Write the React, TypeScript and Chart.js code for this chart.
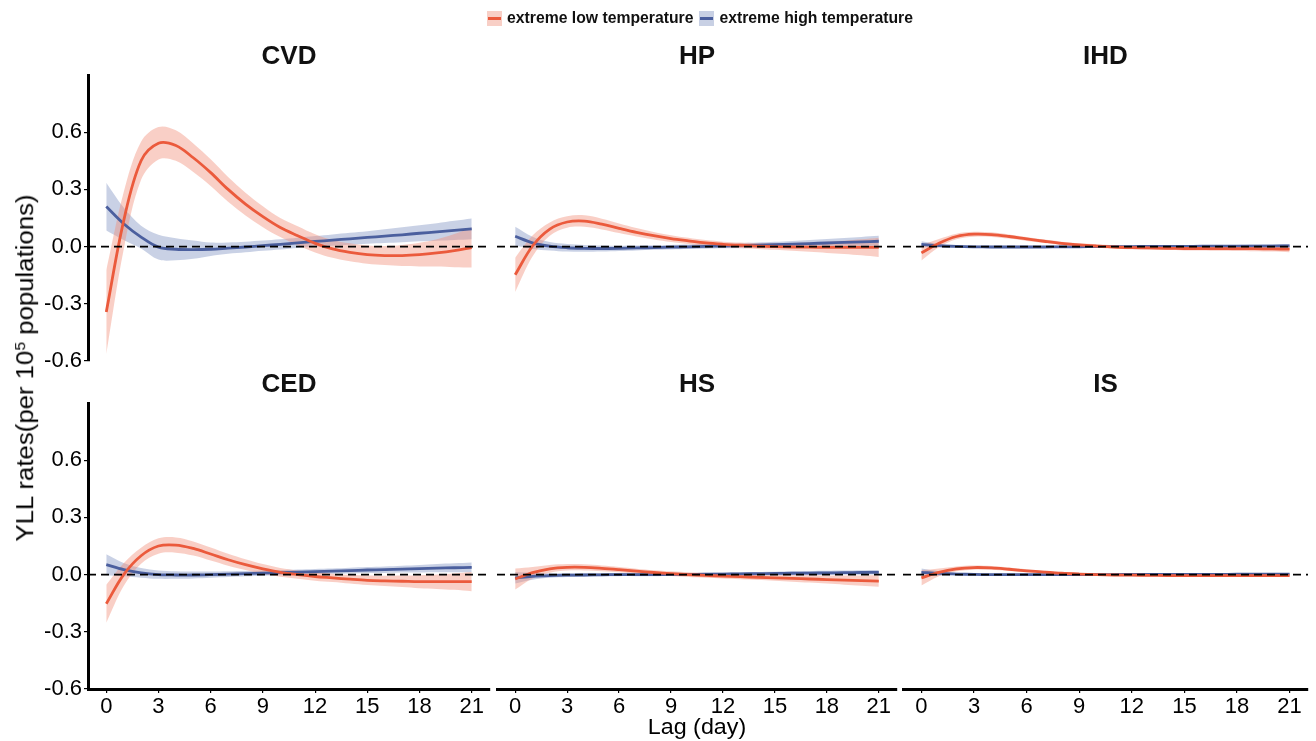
import React, { useEffect, useRef } from "react";
import { Chart, registerables } from "chart.js";

Chart.register(...registerables);

// ---------- data ----------
const lags = [0, 1, 2, 3, 4, 5, 6, 7, 8, 9, 10, 11, 12, 13, 14, 15, 16, 17, 18, 19, 20, 21];
const xTickValues = [0, 3, 6, 9, 12, 15, 18, 21];
const yTickValues = [-0.6, -0.3, 0, 0.3, 0.6];
const xLimits = [-1.05, 22.05];
const yLimits = [-0.6, 0.9];
const zeroLine = [0, 0];

const panelTitles = ["CVD", "HP", "IHD", "CED", "HS", "IS"];
const seriesNames = ["extreme low temperature", "extreme high temperature"];

// CVD
const cvdLow = [-0.343, 0.135, 0.45, 0.542, 0.53, 0.466, 0.388, 0.30, 0.223, 0.157, 0.10, 0.057, 0.017, -0.012, -0.03, -0.042, -0.047, -0.047, -0.042, -0.033, -0.021, -0.005];
const cvdLowLower = [-0.563, -0.015, 0.35, 0.457, 0.45, 0.391, 0.318, 0.235, 0.163, 0.102, 0.05, 0.007, -0.031, -0.059, -0.077, -0.09, -0.097, -0.102, -0.104, -0.105, -0.108, -0.11];
const cvdLowUpper = [-0.123, 0.285, 0.55, 0.627, 0.61, 0.541, 0.458, 0.365, 0.283, 0.212, 0.15, 0.107, 0.065, 0.035, 0.017, 0.006, 0.003, 0.008, 0.02, 0.039, 0.066, 0.10];
const cvdHigh = [0.21, 0.12, 0.05, -0.003, -0.014, -0.016, -0.014, -0.008, -0.002, 0.005, 0.012, 0.02, 0.027, 0.034, 0.041, 0.048, 0.055, 0.062, 0.07, 0.077, 0.085, 0.093];
const cvdHighLower = [0.085, 0.035, -0.01, -0.068, -0.072, -0.064, -0.049, -0.038, -0.03, -0.022, -0.015, -0.007, -0.001, 0.005, 0.01, 0.015, 0.019, 0.023, 0.028, 0.031, 0.035, 0.039];
const cvdHighUpper = [0.335, 0.205, 0.11, 0.062, 0.044, 0.032, 0.021, 0.022, 0.026, 0.032, 0.039, 0.047, 0.055, 0.063, 0.072, 0.081, 0.091, 0.101, 0.112, 0.123, 0.135, 0.147];

// HP
const hpLow = [-0.148, 0.003, 0.092, 0.129, 0.134, 0.118, 0.096, 0.075, 0.057, 0.042, 0.03, 0.019, 0.012, 0.007, 0.003, 0.0, -0.002, -0.003, -0.004, -0.004, -0.004, -0.004];
const hpLowLower = [-0.238, -0.052, 0.057, 0.099, 0.104, 0.09, 0.071, 0.053, 0.037, 0.024, 0.014, 0.004, -0.002, -0.007, -0.012, -0.017, -0.022, -0.027, -0.033, -0.039, -0.046, -0.054];
const hpLowUpper = [-0.058, 0.058, 0.127, 0.159, 0.164, 0.146, 0.121, 0.097, 0.077, 0.06, 0.046, 0.034, 0.026, 0.021, 0.018, 0.017, 0.018, 0.021, 0.025, 0.031, 0.038, 0.046];
const hpHigh = [0.054, 0.02, 0.002, -0.006, -0.009, -0.01, -0.009, -0.007, -0.005, -0.003, -0.001, 0.001, 0.003, 0.005, 0.007, 0.01, 0.013, 0.016, 0.019, 0.022, 0.025, 0.028];
const hpHighLower = [0.004, -0.012, -0.02, -0.026, -0.027, -0.026, -0.023, -0.02, -0.017, -0.015, -0.013, -0.011, -0.009, -0.008, -0.007, -0.005, -0.004, -0.003, -0.002, -0.001, -0.001, -0.001];
const hpHighUpper = [0.104, 0.052, 0.024, 0.014, 0.009, 0.006, 0.005, 0.006, 0.007, 0.009, 0.011, 0.013, 0.015, 0.018, 0.021, 0.025, 0.03, 0.035, 0.04, 0.045, 0.051, 0.057];

// IHD
const ihdLow = [-0.033, 0.018, 0.053, 0.065, 0.063, 0.053, 0.04, 0.028, 0.017, 0.009, 0.003, -0.002, -0.005, -0.007, -0.009, -0.01, -0.01, -0.011, -0.011, -0.011, -0.012, -0.013];
const ihdLowLower = [-0.073, -0.004, 0.038, 0.052, 0.051, 0.042, 0.03, 0.019, 0.008, 0.0, -0.006, -0.011, -0.014, -0.016, -0.018, -0.02, -0.02, -0.022, -0.023, -0.024, -0.026, -0.029];
const ihdLowUpper = [0.007, 0.04, 0.068, 0.078, 0.075, 0.064, 0.05, 0.037, 0.026, 0.018, 0.012, 0.007, 0.004, 0.002, 0.0, 0.0, 0.0, 0.0, 0.001, 0.002, 0.002, 0.003];
const ihdHigh = [0.012, 0.005, 0.001, -0.001, -0.002, -0.002, -0.002, -0.002, -0.001, -0.001, 0.0, 0.0, 0.0, 0.001, 0.001, 0.001, 0.002, 0.002, 0.002, 0.003, 0.003, 0.004];
const ihdHighLower = [-0.004, -0.005, -0.006, -0.007, -0.008, -0.008, -0.008, -0.007, -0.006, -0.006, -0.005, -0.005, -0.005, -0.004, -0.004, -0.004, -0.004, -0.004, -0.005, -0.005, -0.006, -0.006];
const ihdHighUpper = [0.028, 0.015, 0.008, 0.005, 0.004, 0.004, 0.004, 0.003, 0.004, 0.004, 0.005, 0.005, 0.005, 0.006, 0.006, 0.006, 0.008, 0.008, 0.009, 0.011, 0.012, 0.014];

// CED
const cedLow = [-0.153, 0.0, 0.099, 0.15, 0.155, 0.137, 0.108, 0.078, 0.052, 0.03, 0.012, 0.0, -0.01, -0.017, -0.024, -0.03, -0.033, -0.035, -0.037, -0.037, -0.037, -0.037];
const cedLowLower = [-0.253, -0.06, 0.057, 0.11, 0.115, 0.1, 0.074, 0.047, 0.024, 0.005, -0.011, -0.022, -0.032, -0.039, -0.047, -0.055, -0.06, -0.065, -0.071, -0.075, -0.08, -0.087];
const cedLowUpper = [-0.053, 0.06, 0.141, 0.19, 0.195, 0.174, 0.142, 0.109, 0.08, 0.055, 0.035, 0.022, 0.012, 0.005, -0.001, -0.005, -0.006, -0.005, -0.003, 0.001, 0.006, 0.013];
const cedHigh = [0.052, 0.026, 0.009, 0.0, -0.002, -0.002, 0.0, 0.003, 0.005, 0.008, 0.01, 0.013, 0.016, 0.018, 0.021, 0.024, 0.026, 0.029, 0.031, 0.034, 0.036, 0.038];
const cedHighLower = [-0.003, -0.009, -0.016, -0.022, -0.022, -0.02, -0.016, -0.012, -0.009, -0.006, -0.004, -0.001, 0.002, 0.004, 0.006, 0.008, 0.009, 0.011, 0.011, 0.012, 0.012, 0.012];
const cedHighUpper = [0.107, 0.061, 0.034, 0.022, 0.018, 0.016, 0.016, 0.018, 0.019, 0.022, 0.024, 0.027, 0.03, 0.032, 0.036, 0.04, 0.043, 0.047, 0.051, 0.056, 0.06, 0.064];

// HS
const hsLow = [-0.023, 0.01, 0.03, 0.038, 0.038, 0.033, 0.026, 0.018, 0.011, 0.005, 0.0, -0.004, -0.008, -0.011, -0.014, -0.017, -0.02, -0.023, -0.026, -0.029, -0.032, -0.034];
const hsLowLower = [-0.078, -0.02, 0.01, 0.021, 0.022, 0.018, 0.012, 0.005, -0.001, -0.007, -0.012, -0.016, -0.02, -0.024, -0.028, -0.032, -0.037, -0.042, -0.047, -0.053, -0.059, -0.064];
const hsLowUpper = [0.032, 0.04, 0.05, 0.055, 0.054, 0.048, 0.04, 0.031, 0.023, 0.017, 0.012, 0.008, 0.004, 0.002, 0.0, -0.002, -0.003, -0.004, -0.005, -0.005, -0.005, -0.004];
const hsHigh = [-0.017, -0.009, -0.005, -0.003, -0.002, -0.001, 0.0, 0.0, 0.0, 0.001, 0.001, 0.002, 0.003, 0.004, 0.005, 0.006, 0.007, 0.008, 0.009, 0.01, 0.011, 0.012];
const hsHighLower = [-0.047, -0.027, -0.017, -0.013, -0.011, -0.009, -0.008, -0.008, -0.008, -0.007, -0.007, -0.006, -0.005, -0.004, -0.004, -0.003, -0.003, -0.003, -0.002, -0.001, -0.001, 0.0];
const hsHighUpper = [0.013, 0.009, 0.007, 0.007, 0.007, 0.007, 0.008, 0.008, 0.008, 0.009, 0.009, 0.01, 0.011, 0.012, 0.014, 0.015, 0.017, 0.019, 0.02, 0.021, 0.023, 0.024];

// IS
const isLow = [-0.017, 0.012, 0.03, 0.037, 0.035, 0.028, 0.02, 0.013, 0.007, 0.003, 0.0, -0.002, -0.003, -0.004, -0.005, -0.005, -0.005, -0.005, -0.005, -0.005, -0.005, -0.005];
const isLowLower = [-0.057, -0.008, 0.017, 0.026, 0.025, 0.019, 0.012, 0.006, 0.0, -0.003, -0.006, -0.008, -0.009, -0.01, -0.011, -0.011, -0.011, -0.011, -0.012, -0.012, -0.012, -0.013];
const isLowUpper = [0.023, 0.032, 0.043, 0.048, 0.045, 0.037, 0.028, 0.02, 0.014, 0.009, 0.006, 0.004, 0.003, 0.002, 0.001, 0.001, 0.001, 0.001, 0.002, 0.002, 0.002, 0.003];
const isHigh = [0.012, 0.006, 0.003, 0.001, 0.0, 0.0, 0.0, 0.0, 0.0, 0.0, 0.0, 0.0, 0.001, 0.001, 0.001, 0.001, 0.001, 0.001, 0.002, 0.002, 0.002, 0.002];
const isHighLower = [-0.008, -0.006, -0.004, -0.004, -0.005, -0.005, -0.004, -0.004, -0.004, -0.004, -0.004, -0.004, -0.003, -0.003, -0.003, -0.003, -0.003, -0.003, -0.003, -0.003, -0.004, -0.004];
const isHighUpper = [0.032, 0.018, 0.01, 0.006, 0.005, 0.005, 0.004, 0.004, 0.004, 0.004, 0.004, 0.004, 0.005, 0.005, 0.005, 0.005, 0.005, 0.005, 0.007, 0.007, 0.008, 0.008];

const panelSeries = [
  [cvdLow, cvdLowLower, cvdLowUpper, cvdHigh, cvdHighLower, cvdHighUpper],
  [hpLow, hpLowLower, hpLowUpper, hpHigh, hpHighLower, hpHighUpper],
  [ihdLow, ihdLowLower, ihdLowUpper, ihdHigh, ihdHighLower, ihdHighUpper],
  [cedLow, cedLowLower, cedLowUpper, cedHigh, cedHighLower, cedHighUpper],
  [hsLow, hsLowLower, hsLowUpper, hsHigh, hsHighLower, hsHighUpper],
  [isLow, isLowLower, isLowUpper, isHigh, isHighLower, isHighUpper],
];

// ---------- style / layout ----------
const W = 1316;
const H = 741;
const FONT = "'Liberation Sans', Arial, Helvetica, sans-serif";
const colLeft = [88, 497, 903];
const colRight = [490, 897, 1308];
const rowTop = [75, 403];
const rowBottom = [361, 689];
const X_AXIS_H = 40;
const TENSION = 0.35;

const RED = "#EB5A3C";
const BLUE = "#4B5F9E";
const RED_FILL = "rgba(240,140,120,0.42)";
const BLUE_FILL = "rgba(120,140,190,0.40)";
const RED_KEY = "rgb(248,207,198)";
const BLUE_KEY = "rgb(200,208,228)";

const pts = (arr: number[]) => lags.map((x, i) => ({ x, y: arr[i] }));

const panelTitlePlugin = {
  id: "panelTitle",
  afterDraw(chart: any, _args: any, opts: any) {
    const { ctx, chartArea } = chart;
    ctx.save();
    ctx.font = `bold 26px ${FONT}`;
    ctx.fillStyle = "#111";
    ctx.textAlign = "center";
    ctx.textBaseline = "middle";
    ctx.fillText(opts.text, (chartArea.left + chartArea.right) / 2, chartArea.top - 18);
    ctx.restore();
  },
};

export default function App() {
  const refs = useRef<(HTMLCanvasElement | null)[]>([]);

  useEffect(() => {
    const charts: Chart[] = [];
    panelTitles.forEach((title, idx) => {
      const canvas = refs.current[idx];
      if (!canvas) return;
      const r = Math.floor(idx / 3);
      const c = idx % 3;
      const [low, lowLo, lowHi, high, highLo, highHi] = panelSeries[idx];
      const showX = r === 1;
      const showY = c === 0;
      const chart = new Chart(canvas, {
        type: "line",
        data: {
          datasets: [
            {
              label: "zero",
              data: xLimits.map((x, i) => ({ x, y: zeroLine[i] })),
              borderColor: "#000",
              borderWidth: 1.8,
              borderDash: [8, 5],
              pointRadius: 0,
              fill: false,
              tension: 0,
              order: 0,
            },
            {
              label: seriesNames[0],
              data: pts(low),
              borderColor: RED,
              borderWidth: 2.8,
              pointRadius: 0,
              fill: false,
              tension: TENSION,
              order: 1,
            },
            {
              label: seriesNames[1],
              data: pts(high),
              borderColor: BLUE,
              borderWidth: 2.8,
              pointRadius: 0,
              fill: false,
              tension: TENSION,
              order: 2,
            },
            {
              label: "low upper",
              data: pts(lowHi),
              borderWidth: 0,
              borderColor: "rgba(0,0,0,0)",
              backgroundColor: RED_FILL,
              pointRadius: 0,
              fill: "+1",
              tension: TENSION,
              order: 3,
            },
            {
              label: "low lower",
              data: pts(lowLo),
              borderWidth: 0,
              borderColor: "rgba(0,0,0,0)",
              pointRadius: 0,
              fill: false,
              tension: TENSION,
              order: 3,
            },
            {
              label: "high upper",
              data: pts(highHi),
              borderWidth: 0,
              borderColor: "rgba(0,0,0,0)",
              backgroundColor: BLUE_FILL,
              pointRadius: 0,
              fill: "+1",
              tension: TENSION,
              order: 4,
            },
            {
              label: "high lower",
              data: pts(highLo),
              borderWidth: 0,
              borderColor: "rgba(0,0,0,0)",
              pointRadius: 0,
              fill: false,
              tension: TENSION,
              order: 4,
            },
          ],
        },
        options: {
          animation: false,
          responsive: false,
          devicePixelRatio: 1,
          events: [],
          layout: {
            padding: {
              left: showY ? 0 : colLeft[c],
              right: W - colRight[c],
              top: rowTop[r],
              bottom: showX ? H - rowBottom[r] - X_AXIS_H : H - rowBottom[r],
            },
          },
          plugins: {
            legend: { display: false },
            tooltip: { enabled: false },
            title: { display: false },
            panelTitle: { text: title },
          } as any,
          scales: {
            x: {
              type: "linear",
              min: xLimits[0],
              max: xLimits[1],
              display: showX,
              afterBuildTicks: (s: any) => {
                s.ticks = xTickValues.map((v) => ({ value: v }));
              },
              afterFit: (s: any) => {
                s.height = showX ? X_AXIS_H : 0;
              },
              grid: {
                display: true,
                drawOnChartArea: false,
                drawTicks: true,
                tickLength: 4,
                color: "#000",
                lineWidth: 1.2,
              },
              border: { display: true, color: "#000", width: 3 },
              ticks: {
                padding: 1,
                color: "#000",
                font: { family: FONT, size: 22 },
                maxRotation: 0,
                autoSkip: false,
                callback: (v: any) => String(v),
              },
            },
            y: {
              type: "linear",
              min: yLimits[0],
              max: yLimits[1],
              display: showY,
              afterBuildTicks: (s: any) => {
                s.ticks = yTickValues.map((v) => ({ value: v }));
              },
              afterFit: (s: any) => {
                s.width = showY ? colLeft[0] : 0;
              },
              grid: {
                display: true,
                drawOnChartArea: false,
                drawTicks: true,
                tickLength: 4,
                color: "#000",
                lineWidth: 1.2,
              },
              border: { display: true, color: "#000", width: 3 },
              ticks: {
                padding: 2,
                color: "#000",
                font: { family: FONT, size: 22 },
                autoSkip: false,
                callback: (v: any) => Number(v).toFixed(1),
              },
            },
          },
        },
        plugins: [panelTitlePlugin],
      } as any);
      charts.push(chart);
    });
    return () => charts.forEach((ch) => ch.destroy());
  }, []);

  return (
    <div
      style={{
        position: "fixed",
        left: 0,
        top: 0,
        width: W,
        height: H,
        background: "#fff",
        fontFamily: FONT,
        color: "#000",
        overflow: "hidden",
      }}
    >
      {panelTitles.map((t, i) => (
        <canvas
          key={t}
          ref={(el) => {
            refs.current[i] = el;
          }}
          width={W}
          height={H}
          style={{ position: "absolute", left: 0, top: 0, width: W, height: H }}
        />
      ))}
      {/* legend */}
      <div
        style={{
          position: "absolute",
          left: 487,
          top: 9,
          display: "flex",
          alignItems: "center",
          fontWeight: "bold",
          fontSize: 15.75,
          whiteSpace: "nowrap",
          color: "#111",
        }}
      >
        {[
          [RED_KEY, RED],
          [BLUE_KEY, BLUE],
        ].map(([bg, line], i) => (
          <React.Fragment key={i}>
            <div
              style={{
                width: 15,
                height: 15,
                background: bg,
                position: "relative",
                marginRight: 5,
              }}
            >
              <div
                style={{
                  position: "absolute",
                  left: 1,
                  right: 1,
                  top: 6,
                  height: 3,
                  background: line,
                }}
              />
            </div>
            <span style={{ marginRight: 6 }}>{seriesNames[i]}</span>
          </React.Fragment>
        ))}
      </div>
      {/* y axis title */}
      <div
        style={{
          position: "absolute",
          left: 25,
          top: 368,
          transform: "translate(-50%, -50%) rotate(-90deg) scaleX(1.12)",
          fontSize: 23,
          whiteSpace: "nowrap",
          lineHeight: 1,
        }}
      >
        YLL rates(per 10<sup style={{ fontSize: 14, verticalAlign: "0.55em" }}>5</sup> populations)
      </div>
      {/* x axis title */}
      <div
        style={{
          position: "absolute",
          left: 697,
          top: 727,
          transform: "translate(-50%, -50%) scaleX(1.06)",
          fontSize: 22,
          whiteSpace: "nowrap",
          lineHeight: 1,
        }}
      >
        Lag (day)
      </div>
    </div>
  );
}
